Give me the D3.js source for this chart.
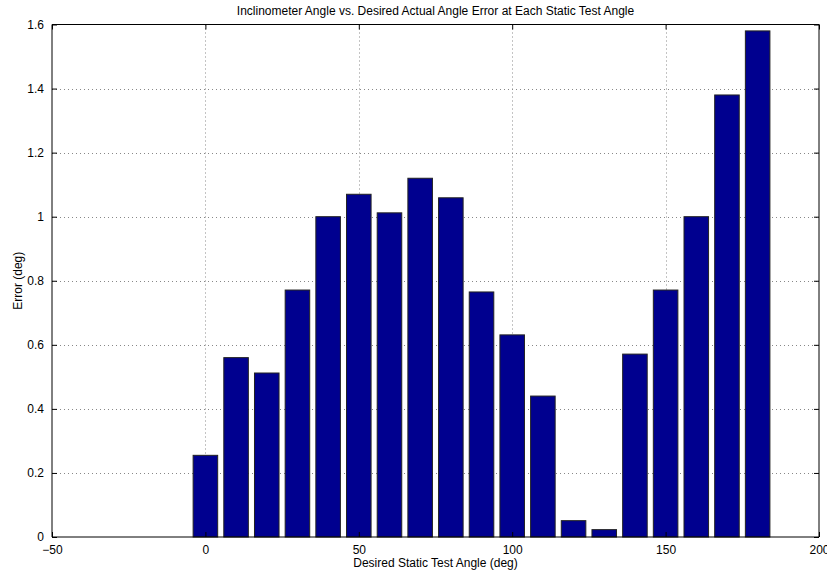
<!DOCTYPE html>
<html>
<head>
<meta charset="utf-8">
<script src="https://cdn.jsdelivr.net/npm/d3@7"></script>
<style>
  body { margin: 0; background: #fff; }
  svg text { font-family: "Liberation Sans", Arial, sans-serif; font-size: 12px; fill: #000; }
</style>
</head>
<body>
<svg id="chart" width="827" height="571"></svg>
<script>
// Static test angles (deg) and the measured error at each one (deg)
const angles = [0, 10, 20, 30, 40, 50, 60, 70, 80, 90, 100, 110, 120, 130, 140, 150, 160, 170, 180];
const errors = [0.255, 0.56, 0.512, 0.771, 1.0, 1.07, 1.012, 1.12, 1.059, 0.765, 0.631, 0.44, 0.051, 0.023, 0.571, 0.771, 1.0, 1.38, 1.58];
const xTicks = [-50, 0, 50, 100, 150, 200];
const yTicks = [0, 0.2, 0.4, 0.6, 0.8, 1, 1.2, 1.4, 1.6];

const titleText = "Inclinometer Angle vs. Desired Actual Angle Error at Each Static Test Angle";
const xLabel = "Desired Static Test Angle (deg)";
const yLabel = "Error (deg)";

const svg = d3.select("#chart");
const plotL = 52, plotR = 819, plotT = 24.5, plotB = 537;

const x = d3.scaleLinear().domain([-50, 200]).range([plotL, plotR]);
const y = d3.scaleLinear().domain([0, 1.6]).range([plotB, plotT]);
const barWidth = 8; // 0.8 of the 10-degree spacing

// dotted grid
const grid = svg.append("g");
grid.selectAll(".gx").data(xTicks.slice(1, -1)).enter().append("line")
  .attr("x1", d => Math.round(x(d)) + 0.5).attr("x2", d => Math.round(x(d)) + 0.5)
  .attr("y1", plotT).attr("y2", plotB)
  .attr("stroke", "#888").attr("stroke-width", 1).attr("stroke-dasharray", "1,3");
grid.selectAll(".gy").data(yTicks.slice(1, -1)).enter().append("line")
  .attr("x1", plotL).attr("x2", plotR)
  .attr("y1", d => Math.round(y(d)) + 0.5).attr("y2", d => Math.round(y(d)) + 0.5)
  .attr("stroke", "#888").attr("stroke-width", 1).attr("stroke-dasharray", "1,3");

// bars
svg.append("g").selectAll("rect").data(angles).enter().append("rect")
  .attr("x", d => x(d - barWidth / 2))
  .attr("width", d => x(d + barWidth / 2) - x(d - barWidth / 2))
  .attr("y", (d, i) => y(errors[i]))
  .attr("height", (d, i) => y(0) - y(errors[i]))
  .attr("fill", "#00008f")
  .attr("stroke", "#222")
  .attr("stroke-width", 1);

// axes with inward ticks on all four sides
const tickLen = 5;
const xAxisB = d3.axisBottom(x).tickValues(xTicks).tickSize(-tickLen).tickPadding(8).tickFormat(d3.format("d"));
const xAxisT = d3.axisTop(x).tickValues(xTicks).tickSize(-tickLen).tickFormat("");
const yAxisL = d3.axisLeft(y).tickValues(yTicks).tickSize(-tickLen).tickPadding(8).tickFormat(d => d3.format("~g")(d));
const yAxisR = d3.axisRight(y).tickValues(yTicks).tickSize(-tickLen).tickFormat("");

function styleAxis(g) {
  g.selectAll("path").attr("stroke", "#000");
  g.selectAll("line").attr("stroke", "#000");
  g.selectAll("text").style("font-family", "Liberation Sans, Arial, sans-serif").style("font-size", "12px").attr("fill", "#000");
}

svg.append("g").attr("transform", `translate(0,${plotB})`).call(xAxisB).call(styleAxis)
  .call(g => g.select(".domain").attr("d", `M${plotL},0H${plotR}`));
svg.append("g").attr("transform", `translate(0,${plotT})`).call(xAxisT).call(styleAxis)
  .call(g => g.select(".domain").attr("d", `M${plotL},0H${plotR}`));
svg.append("g").attr("transform", `translate(${plotL},0)`).call(yAxisL).call(styleAxis)
  .call(g => g.select(".domain").attr("d", `M0,${plotT}V${plotB}`));
svg.append("g").attr("transform", `translate(${plotR},0)`).call(yAxisR).call(styleAxis)
  .call(g => g.select(".domain").attr("d", `M0,${plotT}V${plotB}`));

// title and axis labels
svg.append("text").attr("x", (plotL + plotR) / 2).attr("y", 15).attr("text-anchor", "middle").text(titleText);
svg.append("text").attr("x", (plotL + plotR) / 2).attr("y", 567).attr("text-anchor", "middle").text(xLabel);
svg.append("text").attr("transform", `translate(22,${(plotT + plotB) / 2}) rotate(-90)`).attr("text-anchor", "middle").text(yLabel);
</script>
</body>
</html>
